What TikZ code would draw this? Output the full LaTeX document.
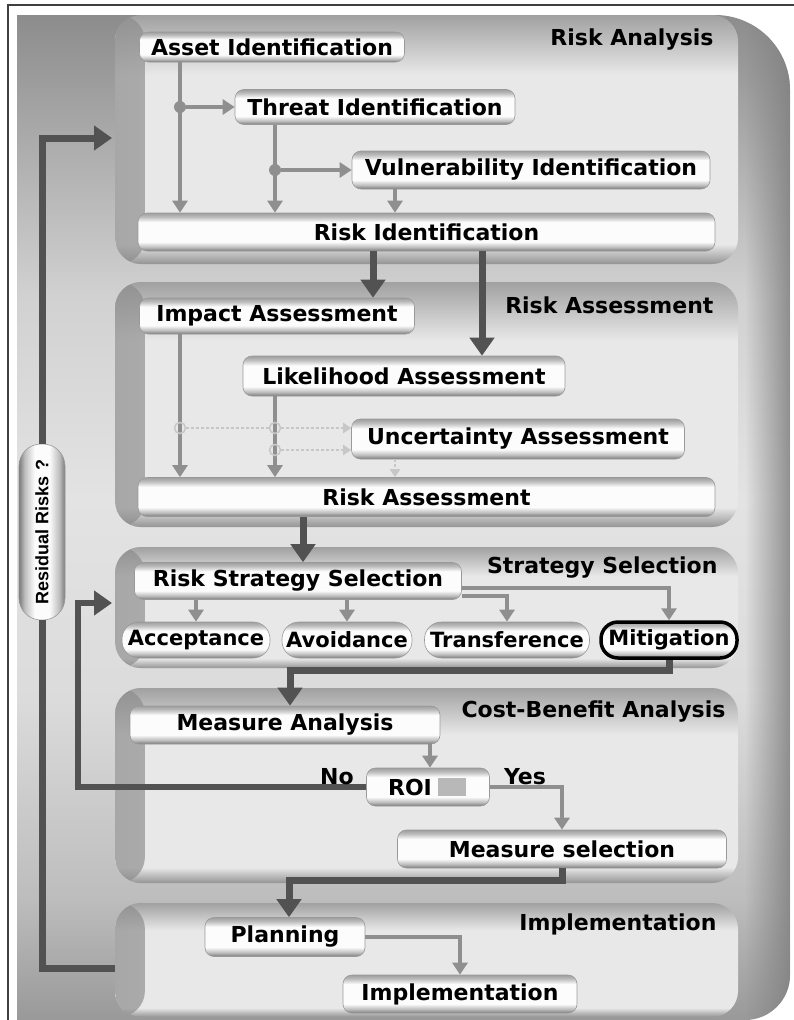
\documentclass[tikz,border=0pt]{standalone}
\usepackage{fontspec}
\setmainfont{DejaVu Sans}
\newfontfamily\residfont{Liberation Sans}
\usetikzlibrary{arrows.meta,calc,fadings}

\definecolor{frameLine}{gray}{0.25}
\definecolor{bgA}{gray}{0.60}
\definecolor{bgB}{gray}{0.74}
\definecolor{bgC}{gray}{0.86}
\definecolor{bgD}{gray}{0.89}
\definecolor{bgE}{gray}{0.82}
\definecolor{bgF}{gray}{0.55}
\definecolor{bgRim}{gray}{0.50}
\definecolor{pnlTop}{gray}{0.63}
\definecolor{pnlMid}{gray}{0.91}
\definecolor{pnlBot}{gray}{0.58}
\definecolor{pnlSide}{gray}{0.55}
\definecolor{boxTop}{gray}{0.62}
\definecolor{boxLow}{gray}{0.74}
\definecolor{boxMid}{gray}{0.99}
\definecolor{boxBot}{gray}{0.48}
\definecolor{boxEdge}{gray}{0.60}
\definecolor{lightArrow}{gray}{0.56}
\definecolor{darkArrow}{gray}{0.32}
\definecolor{faintArrow}{gray}{0.78}
\definecolor{patchGray}{gray}{0.72}

% stage panels: darker rim at top and bottom, light interior
\pgfdeclareverticalshading{panelfill}{100bp}{color(0bp)=(pnlBot); color(25bp)=(pnlBot); color(29bp)=(pnlMid); color(63bp)=(pnlMid); color(75bp)=(pnlTop); color(100bp)=(pnlTop)}
% bevelled bars for the process steps
\pgfdeclareverticalshading{barfill}{100bp}{color(0bp)=(boxBot); color(25bp)=(boxBot); color(30bp)=(boxLow); color(37bp)=(boxMid); color(63bp)=(boxMid); color(70bp)=(boxLow); color(75bp)=(boxTop); color(100bp)=(boxTop)}
% upright capsule
\pgfdeclarehorizontalshading{capsulefill}{100bp}{color(0bp)=(boxBot); color(25bp)=(boxBot); color(31bp)=(boxLow); color(42bp)=(boxMid); color(58bp)=(boxMid); color(69bp)=(boxLow); color(75bp)=(boxBot); color(100bp)=(boxBot)}
% backdrop: dark at top and bottom, light through the middle
\pgfdeclareverticalshading{bgfill}{100bp}{color(0bp)=(bgA); color(25bp)=(bgA); color(31bp)=(bgB); color(41bp)=(bgC); color(51bp)=(bgD); color(61bp)=(bgE); color(75bp)=(bgF); color(100bp)=(bgF)}

\tikzfading[name=leftedge, left color=transparent!30, right color=transparent!100]
\tikzfading[name=rightrim, left color=transparent!100, right color=transparent!15]

\tikzset{
  panel/.style={shading=panelfill, rounded corners=26pt, inner sep=0pt, draw=none,
    path picture={\fill[pnlSide, path fading=leftedge]
      (path picture bounding box.north west) rectangle ($(path picture bounding box.south west)+(30,0)$);}},
  bar/.style={shading=barfill, rounded corners=9pt, draw=boxEdge, line width=0.6pt, inner sep=0pt},
  pill/.style={bar, rounded corners=17pt, font=\fontsize{21}{24}\selectfont\bfseries},
  lightarrow/.style={draw=lightArrow, line width=4.5pt, -{Triangle[width=15pt,length=12pt]}},
  darkarrow/.style={draw=darkArrow, line width=7pt, -{Triangle[width=24pt,length=18pt]}},
  darkline/.style={draw=darkArrow, line width=7pt},
  faintarrow/.style={draw=faintArrow, line width=2pt, dash pattern=on 3pt off 2pt, -{Triangle[width=10pt,length=8pt]}},
  joint/.style={circle, fill=lightArrow, minimum size=12pt, inner sep=0pt},
  faintjoint/.style={circle, draw=faintArrow, line width=1.5pt, minimum size=11pt, inner sep=0pt},
  stage/.style={anchor=east, text=black},
}

\begin{document}
\begin{tikzpicture}[x=1pt, y=-1pt, font=\fontsize{22}{25}\selectfont\bfseries]
\useasboundingbox (0,0) rectangle (794,1020);
\fill[white] (0,0) rectangle (794,1020);

% outer frame
\draw[frameLine, line width=1.5pt] (8,1020) -- (8,5) -- (794,5);

% backdrop with a darker rim along the curved right edge
\path[shading=bgfill] (17,1020) -- (17,15) -- (715,15)
  arc[start angle=-90, end angle=0, radius=75] -- (790,975)
  arc[start angle=0, end angle=90, radius=45] -- cycle;
\begin{scope}
  \clip (17,1020) -- (17,15) -- (715,15)
    arc[start angle=-90, end angle=0, radius=75] -- (790,975)
    arc[start angle=0, end angle=90, radius=45] -- cycle;
  \fill[bgRim, path fading=rightrim] (745,0) rectangle (791,1020);
\end{scope}

% stage panels
\node[panel, minimum width=623pt, minimum height=249pt] (p1) at (426.5,139.5) {};
\node[panel, minimum width=623pt, minimum height=245pt] (p2) at (426.5,404.5) {};
\node[panel, minimum width=623pt, minimum height=121pt] (p3) at (426.5,607.5) {};
\node[panel, minimum width=623pt, minimum height=195pt] (p4) at (426.5,785.5) {};
\node[panel, minimum width=623pt, minimum height=114pt] (p5) at (426.5,960) {};

% stage titles
\node[stage] (tRA) at (717,40) {Risk Analysis};
\node[stage] (tRS) at (717,305) {Risk Assessment};
\node[stage] (tSS) at (721,568) {Strategy Selection};
\node[stage] (tCB) at (729,712) {Cost-Benefit Analysis};
\node[stage] (tIM) at (720,924) {Implementation};

% helper columns
\coordinate (v180) at (180,0);
\coordinate (v275) at (275,0);
\coordinate (v303) at (303,0);
\coordinate (v373) at (373,0);
\coordinate (v395) at (395,0);
\coordinate (v430) at (430,0);
\coordinate (v482) at (482,0);

% Risk Analysis
\node[bar, minimum width=265pt, minimum height=30pt] (asset) at (272,47) {Asset Identification};
\node[bar, minimum width=280pt, minimum height=35pt] (threat) at (375,107) {Threat Identification};
\node[bar, minimum width=358pt, minimum height=38pt] (vuln) at (531,170) {Vulnerability Identification};
\node[bar, minimum width=577pt, minimum height=38pt] (riskid) at (426.5,232) {Risk Identification};

% Risk Assessment
\node[bar, minimum width=275pt, minimum height=36pt] (impact) at (277,316) {Impact Assessment};
\node[bar, minimum width=322pt, minimum height=40pt] (likeli) at (404,376) {Likelihood Assessment};
\node[bar, minimum width=333pt, minimum height=40pt] (uncert) at (518,439) {Uncertainty Assessment};
\node[bar, minimum width=577pt, minimum height=39pt] (riskass) at (426.5,497) {Risk Assessment};

% Strategy Selection
\node[bar, minimum width=327pt, minimum height=37pt] (rss) at (298,581) {Risk Strategy Selection};
\node[pill, minimum width=148pt, minimum height=36pt] (accept) at (196,640) {Acceptance};
\node[pill, minimum width=130pt, minimum height=36pt] (avoid) at (347,640) {Avoidance};
\node[pill, minimum width=165pt, minimum height=36pt] (transf) at (507,640) {Transference};
\node[pill, draw=black, line width=3.5pt, minimum width=136pt, minimum height=36pt] (miti) at (669,640) {Mitigation};

% Cost-Benefit Analysis
\node[bar, minimum width=310pt, minimum height=38pt] (meas) at (285,725) {Measure Analysis};
\node[bar, minimum width=123pt, minimum height=38pt] (roi) at (428,787) {};
\fill[patchGray] ($(roi.center)+(10,-9)$) rectangle ($(roi.center)+(38,9)$);
\node[anchor=center] (roitext) at (410,787) {ROI};
\node[bar, minimum width=329pt, minimum height=38pt] (msel) at (562,849) {Measure selection};

% Implementation
\node[bar, minimum width=160pt, minimum height=39pt] (plan) at (285,937) {Planning};
\node[bar, minimum width=234pt, minimum height=38pt] (impl) at (460,994) {Implementation};

% feedback question
\node[shading=capsulefill, draw=boxEdge, line width=0.6pt, rounded corners=22pt,
      minimum width=46pt, minimum height=176pt, inner sep=0pt,
      font=\residfont\fontsize{18}{20}\selectfont\bfseries] (resid) at (42,532)
      {\rotatebox{90}{Residual Risks ?}};

% --- connectors: Risk Analysis
\node[joint] (j1) at (180,107) {};
\node[joint] (j2) at (275,170) {};
\draw[lightarrow] (asset.south -| v180) -- (riskid.north -| v180);
\draw[lightarrow] (j1) -- (threat.west |- j1);
\draw[lightarrow] (threat.south -| v275) -- (riskid.north -| v275);
\draw[lightarrow] (j2) -- (vuln.west |- j2);
\draw[lightarrow] (vuln.south -| v395) -- (riskid.north -| v395);

% into Risk Assessment
\draw[darkarrow] (riskid.south -| v373) -- (impact.north -| v373);
\draw[darkarrow] (riskid.south -| v482) -- (likeli.north -| v482);

% inside Risk Assessment
\draw[lightarrow] (impact.south -| v180) -- (riskass.north -| v180);
\draw[lightarrow] (likeli.south -| v275) -- (riskass.north -| v275);
\node[faintjoint] (f1) at (180,428) {};
\node[faintjoint] (f2) at (275,428) {};
\node[faintjoint] (f3) at (275,450) {};
\draw[faintarrow] (f1) -- (f2) -- (uncert.west |- f2);
\draw[faintarrow] (f3) -- (uncert.west |- f3);
\draw[faintarrow] (uncert.south -| v395) -- (riskass.north -| v395);

% into Strategy Selection
\draw[darkarrow] (riskass.south -| v303) -- (rss.north -| v303);
\draw[lightarrow] (rss.south -| accept) -- (accept.north);
\draw[lightarrow] (rss.south -| avoid) -- (avoid.north);
\draw[lightarrow] ($(rss.south east)+(0,-4)$) -| (transf.north);
\draw[lightarrow] ($(rss.east)+(0,7)$) -| (miti.north);

% into Cost-Benefit Analysis
\coordinate (k1) at (290,670);
\draw[darkarrow] (miti.south) |- (k1) -- (meas.north -| k1);
\draw[lightarrow] (meas.south -| v430) -- (roi.north -| v430);
\coordinate (k2) at (78,603);
\coordinate (k3) at (112,603);
\draw[darkarrow, line width=6pt] (roi.west) -| (k2) -- (k3);
\node (no) at (337,777) {No};
\node (yes) at (525,777) {Yes};
\draw[lightarrow] (roi.east) -| (msel.north);

% into Implementation
\coordinate (k4) at (289,880);
\draw[darkarrow] (msel.south) |- (k4) -- (plan.north -| k4);
\draw[lightarrow] (plan.east) -| (impl.north);

% residual risk loop back to Risk Analysis
\coordinate (k5) at ($(p5.west)+(0,8)$);
\coordinate (k6) at (112,138);
\draw[darkline] (k5) -| (resid.south);
\draw[darkarrow] (resid.north) |- (k6);
\end{tikzpicture}
\end{document}
